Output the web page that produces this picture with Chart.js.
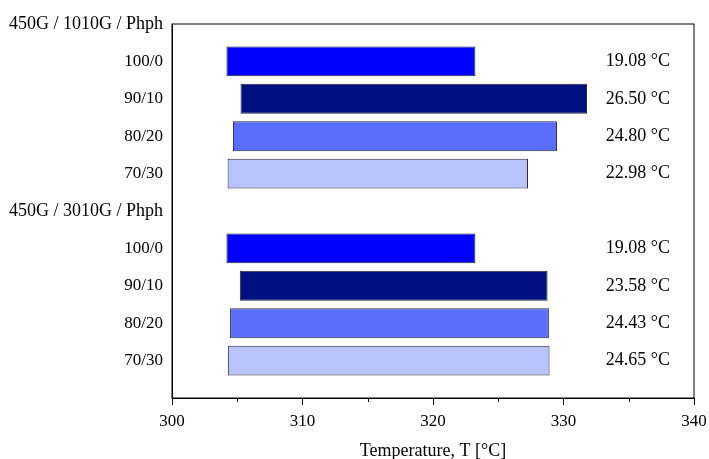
<!DOCTYPE html>
<html lang="en">
<head>
  <meta charset="UTF-8" />
  <title>Crystallization range</title>
  <script src="https://cdn.jsdelivr.net/npm/chart.js"></script>
  <style>
    body { margin: 0; background: #ffffff; }
    #wrap { width: 709px; height: 459px; }
  </style>
</head>
<body>
  <div id="wrap"><canvas id="rangeChart"></canvas></div>

  <script>
    // rows from top to bottom, the last one is an empty spacer
    const rowLabels = [
      '450G / 1010G / Phph', '100/0', '90/10', '80/20', '70/30',
      '450G / 3010G / Phph', '100/0', '90/10', '80/20', '70/30', ''
    ];
    const onsetT = [null, 304.17, 305.25, 304.67, 304.26, null, 304.17, 305.2, 304.45, 304.28, null];
    const endT   = [null, 323.25, 331.8, 329.5, 327.28, null, 323.25, 328.78, 328.88, 328.93, null];
    const rangeText = ['', '19.08 °C', '26.50 °C', '24.80 °C', '22.98 °C',
                       '', '19.08 °C', '23.58 °C', '24.43 °C', '24.65 °C', ''];
    const rowColors = [null, '#0000ff', '#00107e', '#5b6dfd', '#b8c3fc',
                       null, '#0000ff', '#00107e', '#5b6dfd', '#b8c3fc', null];
    const headerRows = [0, 5];
    const xTicks = { min: 300, max: 340, step: 5 };
    const textAtT = 335.7;

    Chart.defaults.font.family = "'Liberation Serif', 'Times New Roman', serif";
    Chart.defaults.font.size = 17;
    Chart.defaults.color = '#000';

    const frame = {
      id: 'frame',
      afterDraw(chart) {
        const { ctx, chartArea: a, scales } = chart;
        ctx.save();
        ctx.strokeStyle = '#000';
        ctx.lineWidth = 1;
        ctx.strokeRect(a.left, a.top, a.right - a.left, a.bottom - a.top);
        // minor ticks
        scales.x.ticks.forEach(t => {
          if (t.value % 10 !== 0) {
            const px = Math.round(scales.x.getPixelForValue(t.value)) + 0.5;
            ctx.beginPath();
            ctx.moveTo(px, a.bottom);
            ctx.lineTo(px, a.bottom + 4);
            ctx.stroke();
          }
        });
        // range labels
        ctx.fillStyle = '#000';
        ctx.font = "18px 'Liberation Serif', serif";
        ctx.textAlign = 'center';
        ctx.textBaseline = 'middle';
        rangeText.forEach((s, i) => {
          if (!s) return;
          ctx.fillText(s, scales.x.getPixelForValue(textAtT), scales.y.getPixelForValue(i));
        });
        ctx.restore();
      }
    };

    new Chart(document.getElementById('rangeChart'), {
      type: 'bar',
      data: {
        labels: rowLabels,
        datasets: [{
          data: onsetT.map((v, i) => v === null ? null : [v, endT[i]]),
          backgroundColor: rowColors.map(c => c || 'transparent'),
          borderColor: '#2a2a3a',
          borderWidth: 1,
          borderSkipped: false,
          barPercentage: 0.8,
          categoryPercentage: 1
        }]
      },
      options: {
        indexAxis: 'y',
        responsive: true,
        maintainAspectRatio: false,
        animation: false,
        layout: { padding: { top: 24, right: 0, left: 0, bottom: 0 } },
        plugins: { legend: { display: false }, tooltip: { enabled: false } },
        scales: {
          x: {
            type: 'linear',
            min: xTicks.min,
            max: xTicks.max,
            ticks: {
              stepSize: xTicks.step,
              padding: 6,
              maxRotation: 0,
              callback: v => (v % 10 === 0 ? v : '')
            },
            grid: {
              display: true,
              drawOnChartArea: false,
              drawTicks: true,
              tickLength: 7,
              tickColor: c => (c.tick && c.tick.value % 10 === 0 ? '#000' : 'rgba(0,0,0,0)')
            },
            border: { display: true, color: '#000', width: 1 },
            title: {
              display: true,
              text: 'Temperature, T [°C]',
              font: { size: 18 },
              padding: { top: 0, bottom: -3 }
            },
            afterFit: s => { s.height = 61; s.paddingRight = 15; }
          },
          y: {
            type: 'category',
            offset: false,
            grid: { display: false, drawTicks: false },
            border: { display: true, color: '#000', width: 1 },
            ticks: {
              padding: 9,
              autoSkip: false,
              font: c => ({ size: headerRows.includes(c.index) ? 18 : 17 })
            },
            afterFit: s => { s.width = 172; }
          }
        }
      },
      plugins: [frame]
    });
  </script>
</body>
</html>
